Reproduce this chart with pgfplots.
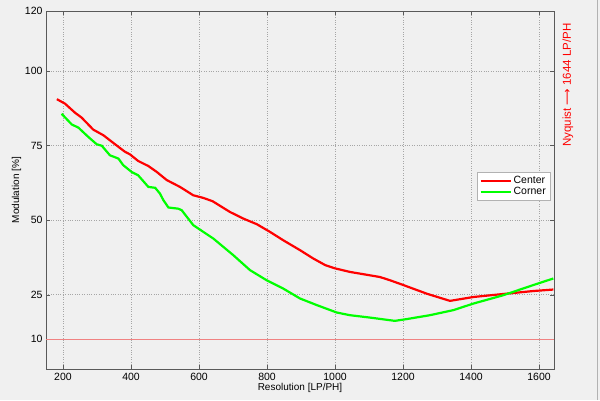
\documentclass[border=0pt]{standalone}
\usepackage{fontspec}
\setmainfont{Liberation Sans}
\newfontfamily\arrowfont{DejaVu Sans}
\usepackage{pgfplots}
\pgfplotsset{compat=1.18}
\definecolor{bgfig}{RGB}{240,240,240}
\definecolor{mred}{RGB}{255,0,0}
\definecolor{mgreen}{RGB}{0,255,0}
\definecolor{limitred}{RGB}{240,130,130}
\begin{document}
\begin{tikzpicture}[x=1bp,y=1bp]
\fill[bgfig] (0,0) rectangle (600,400);
\draw[gray!60] (597,0) -- (597,400);
\begin{axis}[
    at={(46bp,31bp)}, anchor=south west,
    scale only axis, width=508bp, height=358bp,
    xmin=150, xmax=1644, ymin=0, ymax=120,
    xtick={200,400,...,1600},
    ytick={25,50,75,100,120},
    extra y ticks={10},
    extra y tick style={grid=none},
    ymajorgrids=true, xmajorgrids=true,
    major grid style={gray!70, dotted},
    axis line style={gray!70!black},
    tick style={gray!70!black},
    major tick length=4bp,
    tick align=inside,
    font=\fontsize{10.5bp}{12bp}\selectfont,
    /pgf/number format/assume math mode=true,
    /pgf/number format/1000 sep={},
    xlabel={Resolution [LP/PH]},
    ylabel={Modulation [\%]},
    xlabel style={font=\fontsize{10bp}{12bp}\selectfont, yshift=4bp},
    ylabel style={font=\fontsize{10bp}{12bp}\selectfont, yshift=-3bp},
    legend style={at={(0.992,0.55)}, anchor=north east, draw=gray!60,
        fill=white, font=\fontsize{10.5bp}{12bp}\selectfont,
        row sep=-2bp, inner sep=2bp},
    legend cell align=left,
    legend image code/.code={\draw[#1] (0bp,0bp) -- (30bp,0bp);},
]
\addplot[color=mred, line width=2.2bp] coordinates {
(182,90.5)(206,89)(235,86)(255,84.3)(289,80.3)(319,78.4)(353,75.4)(382,72.9)
(397,72)(421,69.8)(451,68.1)(476,66.1)(505,63.4)(544,61.1)(583,58.3)(613,57.4)
(640,56.3)(691,52.7)(730,50.5)(770,48.6)(809,46)(848,43.2)(897,39.9)(936,37.1)
(971,34.9)(1000,33.8)(1044,32.6)(1132,30.9)(1162,29.8)(1201,28.2)(1270,25.3)
(1338,22.9)(1407,24.2)(1485,25.1)(1583,26.2)(1642,26.7)
};
\addlegendentry{Center}
\addplot[color=mgreen, line width=2.2bp] coordinates {
(196,85.6)(226,82)(245,81)(274,77.9)(299,75.4)(314,74.9)(338,71.7)(363,70.6)
(377,68.4)(402,66.1)(421,65)(451,61.1)(471,60.8)(485,58.9)(495,56.7)(510,54.2)
(539,53.8)(549,53.3)(583,48.3)(613,46)(642,43.8)(701,38.2)(750,33.2)(799,29.8)
(848,27)(897,23.7)(946,21.5)(1005,19)(1044,18.1)(1103,17.3)(1176,16.2)
(1211,16.8)(1279,18.1)(1348,19.8)(1407,22)(1495,24.8)(1583,28.2)(1642,30.4)
};
\addlegendentry{Corner}
% 10% limit line
\addplot[limitred, line width=0.8bp] coordinates {(150,10) (1644,10)};
\end{axis}
\node[mred, rotate=90, font=\fontsize{11.5bp}{13bp}\selectfont] at (568,315)
    {Nyquist {\arrowfont ⟶} 1644 LP/PH};
\end{tikzpicture}
\end{document}
